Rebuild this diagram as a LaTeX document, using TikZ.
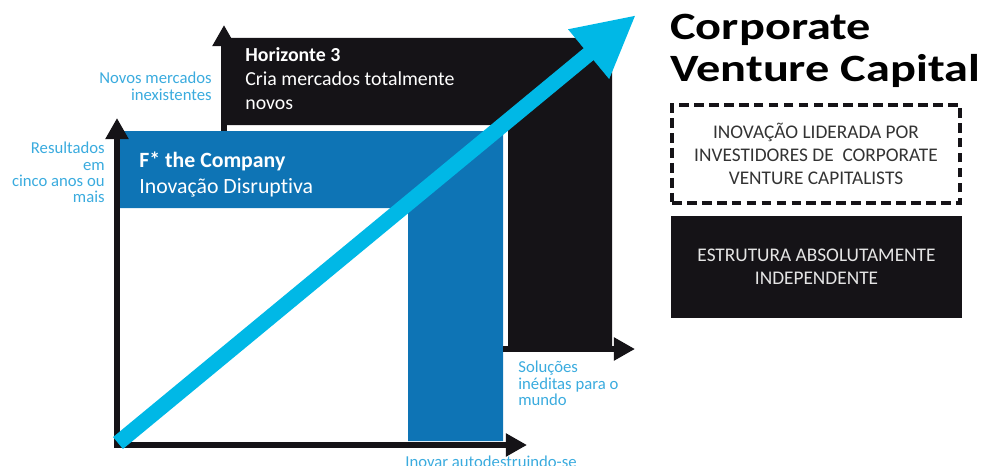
\documentclass[tikz,border=0pt]{standalone}
\usepackage{fontspec}
\usepackage{graphicx}
\setmainfont{Carlito}[Ligatures=NoCommon]
\usetikzlibrary{arrows.meta}
\definecolor{cvblack}{HTML}{151317}
\definecolor{cvblue}{HTML}{0E74B5}
\definecolor{cvcyan}{HTML}{00B8E6}
\definecolor{cvlabel}{HTML}{3AABDE}
\definecolor{cvgray}{HTML}{333333}
\newcommand{\widetitle}[1]{\scalebox{1.25}[1]{#1}}
\tikzset{
  axis/.style={line width=3.4pt, cvblack, -{Triangle[length=12pt, width=12.5pt]}},
  lbl/.style={text=cvlabel, inner sep=0pt, font=\fontsize{9.5}{9.3}\selectfont},
  bartxt/.style={text=white, inner sep=0pt, anchor=north west, align=left},
  cvbox/.style={minimum width=5.76cm, minimum height=1.96cm, align=center, inner sep=0pt}
}
\begin{document}
\begin{tikzpicture}[x=0.02cm, y=-0.02cm]
  \useasboundingbox (0,0) rectangle (983,466);
  \fill[cvblack] (222,38) -- (612,38) -- (612,349) -- (508,349) -- (508,125) -- (222,125) -- cycle;
  \fill[cvblue] (118,131) -- (503,131) -- (503,441) -- (408,441) -- (408,208) -- (118,208) -- cycle;
  \coordinate (o1) at (117,445);
  \coordinate (y1) at (117,118);
  \coordinate (x1) at (527,445);
  \coordinate (o2) at (224,131);
  \coordinate (y2) at (224,25);
  \coordinate (s2) at (503,349);
  \coordinate (x2) at (635,349);
  \draw[axis] ([yshift=-0.05cm]o1) -- (y1);
  \draw[axis] ([xshift=-0.05cm]o1) -- (x1);
  \draw[axis] (o2) -- (y2);
  \draw[axis] (s2) -- (x2);
  \node[bartxt, font=\fontsize{11.3}{13.6}\selectfont] (hor3) at (245,47) {\textbf{Horizonte 3}\\Cria mercados totalmente\\novos};
  \node[bartxt, font=\fontsize{12.4}{14.7}\selectfont] (fco) at (139,152) {\textbf{F* the Company}\\Inovação Disruptiva};
  \node[lbl, anchor=north east, align=right] (novos) at (212,72) {Novos mercados\\inexistentes};
  \node[lbl, anchor=north east, align=right] (result) at (105,142) {Resultados\\em\\cinco anos ou\\mais};
  \node[lbl, anchor=north west, align=left] (solu) at (518,361) {Soluções\\inéditas para o\\mundo};
  \node[lbl, anchor=north west] (inovar) at (405,456) {Inovar autodestruindo-se};
  \coordinate (tail) at (118,443);
  \coordinate (tip) at (636,15);
  \draw[cvcyan, line width=8.8pt, -{Triangle[length=35pt, width=34pt]}] (tail) -- (tip);
  \node[anchor=north west, inner sep=0pt, align=left, font=\bfseries\fontsize{22}{23.8}\selectfont] (cvc) at (670,14) {\widetitle{Corporate}\\\widetitle{Venture Capital}};
  \node[cvbox, draw=cvblack, line width=2pt, dash pattern=on 5.5pt off 3pt, text=cvgray, font=\fontsize{11}{13}\selectfont] (lider) at (816,154) {INOVAÇÃO LIDERADA POR\\INVESTIDORES DE~ CORPORATE\\VENTURE CAPITALISTS};
  \node[cvbox, fill=cvblack, minimum width=5.82cm, minimum height=2.04cm, text=white!90!black, font=\fontsize{11}{13}\selectfont] (indep) at (816.5,267) {ESTRUTURA ABSOLUTAMENTE\\INDEPENDENTE};
\end{tikzpicture}
\end{document}
